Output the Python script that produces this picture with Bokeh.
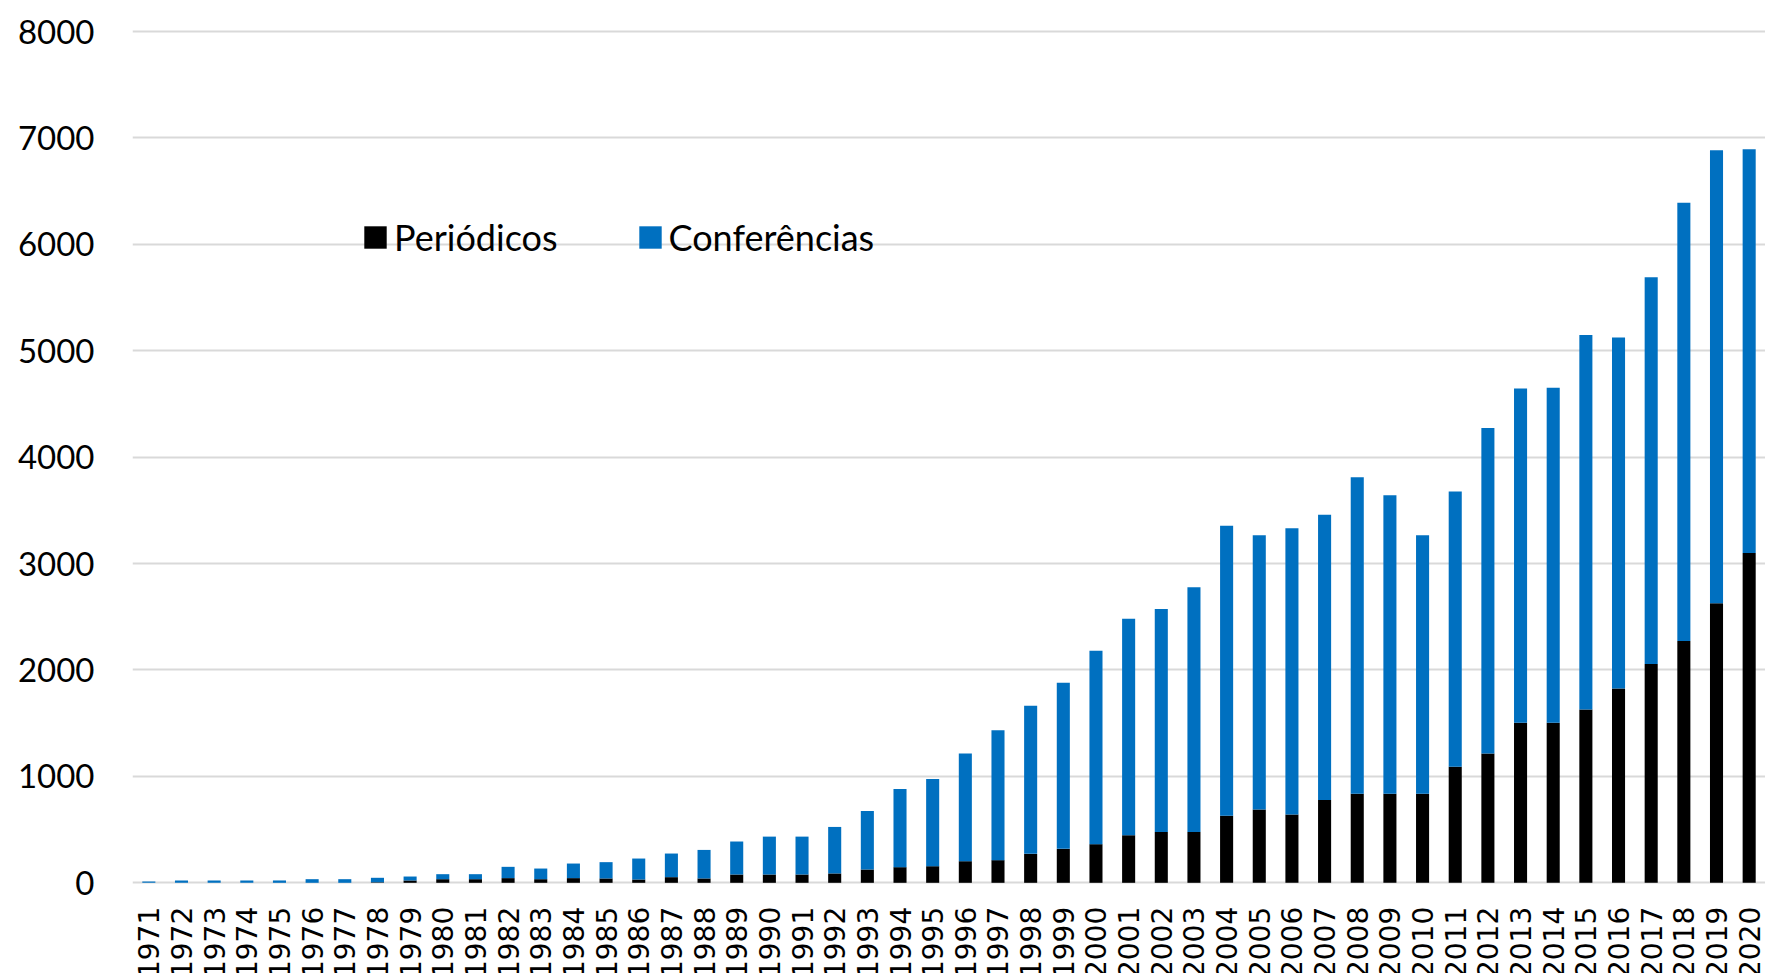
from math import pi
from bokeh.plotting import figure
from bokeh.models import (FactorRange, Range1d, ColumnDataSource, Legend, LegendItem,
                          FixedTicker)
from bokeh.core.properties import value
from bokeh.embed import file_html
from bokeh.resources import INLINE

years = ["1971", "1972", "1973", "1974", "1975", "1976", "1977", "1978", "1979", "1980",
         "1981", "1982", "1983", "1984", "1985", "1986", "1987", "1988", "1989", "1990",
         "1991", "1992", "1993", "1994", "1995", "1996", "1997", "1998", "1999", "2000",
         "2001", "2002", "2003", "2004", "2005", "2006", "2007", "2008", "2009", "2010",
         "2011", "2012", "2013", "2014", "2015", "2016", "2017", "2018", "2019", "2020"]

periodicos = [0, 0, 0, 0, 0, 0, 0, 5, 22, 34,
              34, 44, 34, 44, 41, 31, 53, 41, 78, 78,
              78, 88, 125, 147, 156, 203, 213, 272, 319, 363,
              447, 478, 478, 631, 688, 641, 778, 838, 838, 838,
              1091, 1216, 1503, 1503, 1628, 1825, 2056, 2272, 2628, 3100]

conferencias = [12, 22, 22, 22, 22, 34, 34, 42, 37, 47,
                47, 106, 100, 137, 153, 197, 222, 268, 310, 356,
                356, 437, 550, 734, 819, 1013, 1221, 1391, 1562, 1818,
                2034, 2094, 2300, 2725, 2578, 2690, 2681, 2974, 2803, 2428,
                2587, 3059, 3141, 3150, 3519, 3300, 3635, 4119, 4256, 3794]

y_ticks = [0, 1000, 2000, 3000, 4000, 5000, 6000, 7000, 8000]
series_names = ["Periódicos", "Conferências"]
series_colors = ["#000000", "#0070C0"]

# layout (screen pixels)
W, H = 1765, 973
frame_left, frame_top = 132, 20
px_top_tick, px_zero = 31.0, 882.3          # pixel rows of 8000 and 0
px_per_unit = (px_zero - px_top_tick) / y_ticks[-1]
y_end = y_ticks[-1] + (px_top_tick - frame_top) / px_per_unit
y_start = -(H - px_zero) / px_per_unit
label_y = -24 / px_per_unit                  # year labels 24px below the baseline

src = ColumnDataSource(dict(year=years, periodicos=periodicos, conferencias=conferencias,
                            label_y=[label_y] * len(years)))

p = figure(width=W, height=H, x_range=FactorRange(factors=years, range_padding=0),
           y_range=Range1d(y_start, y_end), output_backend="svg", toolbar_location=None,
           min_border_left=frame_left, min_border_right=0, min_border_top=frame_top,
           min_border_bottom=0)

renderers = p.vbar_stack(["periodicos", "conferencias"], x="year", width=0.4,
                         color=series_colors, line_color=None, source=src)

p.text(x="year", y="label_y", text="year", source=src, angle=pi / 2,
       text_align="right", text_baseline="middle", text_font=value("DejaVu Sans"),
       text_font_size=value("28px"), text_color="#000000")

p.xaxis.visible = False
p.xgrid.grid_line_color = None
p.ygrid.ticker = FixedTicker(ticks=y_ticks)
p.ygrid.grid_line_color = "#D9D9D9"
p.ygrid.grid_line_width = 2
p.outline_line_color = None

p.yaxis.ticker = FixedTicker(ticks=y_ticks)
p.yaxis.axis_line_color = None
p.yaxis.major_tick_line_color = None
p.yaxis.minor_tick_line_color = None
p.yaxis.major_label_standoff = 32
p.yaxis.major_label_text_font = "Lato"
p.yaxis.major_label_text_font_size = "33px"
p.yaxis.major_label_text_color = "#000000"

legend = Legend(items=[LegendItem(label=series_names[0], renderers=[renderers[0]]),
                       LegendItem(label=series_names[1], renderers=[renderers[1]])],
                orientation="horizontal", location=(229, 714))
legend.glyph_width = 28
legend.glyph_height = 28
legend.label_standoff = 5
legend.spacing = 78
legend.padding = 0
legend.margin = 0
legend.border_line_color = None
legend.background_fill_alpha = 0
legend.label_text_font = "Lato"
legend.label_text_font_size = "36px"
legend.label_text_color = "#000000"
p.add_layout(legend)

open("out.html", "w").write(file_html(p, INLINE))
